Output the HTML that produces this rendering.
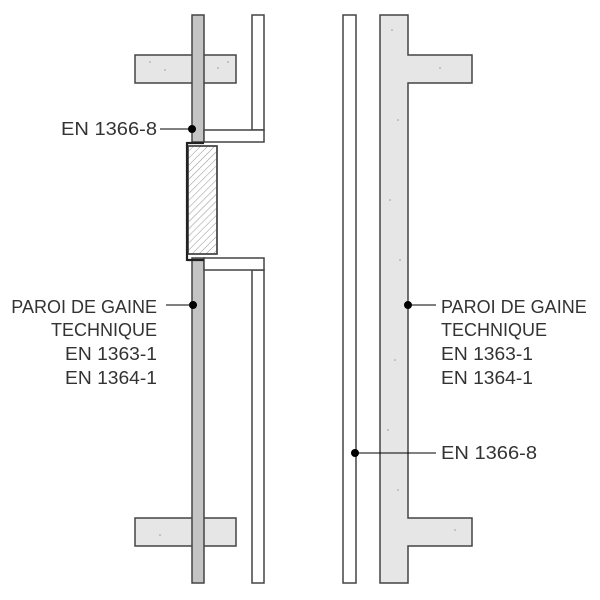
<!DOCTYPE html>
<html><head><style>body{margin:0;background:#fff}svg{display:block}</style></head><body>
<svg width="600" height="600" viewBox="0 0 600 600" xmlns="http://www.w3.org/2000/svg">
<defs>
<pattern id="h" width="5" height="5" patternUnits="userSpaceOnUse" patternTransform="rotate(45)">
<line x1="0" y1="0" x2="0" y2="5" stroke="#666" stroke-width="0.7"/></pattern>
</defs>
<g stroke="#444" stroke-width="1.5">
<rect x="135" y="55" width="101" height="28" fill="#e6e6e6"/>
<rect x="135" y="518" width="101" height="28" fill="#e6e6e6"/>
<rect x="192" y="15" width="12" height="127" fill="#c4c4c4"/>
<rect x="192" y="258" width="12" height="325" fill="#c4c4c4"/>
<rect x="252" y="15" width="12" height="115" fill="#fff"/>
<rect x="252" y="270" width="12" height="313" fill="#fff"/>
<rect x="204" y="130" width="60" height="12" fill="#fff"/>
<rect x="204" y="258" width="60" height="12" fill="#fff"/>
<rect x="188" y="146" width="29" height="108" fill="#fff"/>
<rect x="188" y="146" width="29" height="108" fill="url(#h)"/>
<path d="M187,142 L187,261 M187,143 L204,143 M187,260 L204,260" stroke="#222" stroke-width="2.2" fill="none"/>
<rect x="343" y="15" width="13" height="568" fill="#fff"/>
<path d="M380,15 L408,15 L408,55 L472,55 L472,83 L408,83 L408,518 L472,518 L472,546 L408,546 L408,583 L380,583 Z" fill="#e6e6e6"/>
</g>
<g fill="#999">
<circle cx="150" cy="62" r="0.8"/><circle cx="165" cy="70" r="0.8"/><circle cx="218" cy="68" r="0.8"/><circle cx="228" cy="62" r="0.8"/>
<circle cx="392" cy="30" r="0.8"/><circle cx="398" cy="120" r="0.8"/><circle cx="390" cy="200" r="0.8"/><circle cx="400" cy="260" r="0.8"/><circle cx="395" cy="360" r="0.8"/><circle cx="388" cy="430" r="0.8"/><circle cx="398" cy="490" r="0.8"/><circle cx="440" cy="68" r="0.8"/><circle cx="455" cy="530" r="0.8"/><circle cx="160" cy="535" r="0.8"/>
</g>
<g stroke="#000" stroke-width="1">
<line x1="160" y1="129" x2="192" y2="129"/><circle cx="192" cy="129" r="3.5"/>
<line x1="166" y1="305" x2="193" y2="305"/><circle cx="193" cy="305" r="3.5"/>
<line x1="408" y1="305" x2="436" y2="305"/><circle cx="408" cy="305" r="3.5"/>
<line x1="355" y1="453" x2="436" y2="453"/><circle cx="355" cy="453" r="3.5"/>
</g>
<g font-family="Liberation Sans, sans-serif" font-size="18" fill="#333">
<text x="157" y="135" text-anchor="end" textLength="96" lengthAdjust="spacingAndGlyphs">EN 1366-8</text>
<text x="157" y="313" text-anchor="end">PAROI DE GAINE</text>
<text x="157" y="336" text-anchor="end">TECHNIQUE</text>
<text x="157" y="360" text-anchor="end" textLength="92" lengthAdjust="spacingAndGlyphs">EN 1363-1</text>
<text x="157" y="384" text-anchor="end" textLength="92" lengthAdjust="spacingAndGlyphs">EN 1364-1</text>
<text x="441" y="313">PAROI DE GAINE</text>
<text x="441" y="336">TECHNIQUE</text>
<text x="441" y="360" textLength="92" lengthAdjust="spacingAndGlyphs">EN 1363-1</text>
<text x="441" y="384" textLength="92" lengthAdjust="spacingAndGlyphs">EN 1364-1</text>
<text x="441" y="459" textLength="96" lengthAdjust="spacingAndGlyphs">EN 1366-8</text>
</g>
</svg>
</body></html>
